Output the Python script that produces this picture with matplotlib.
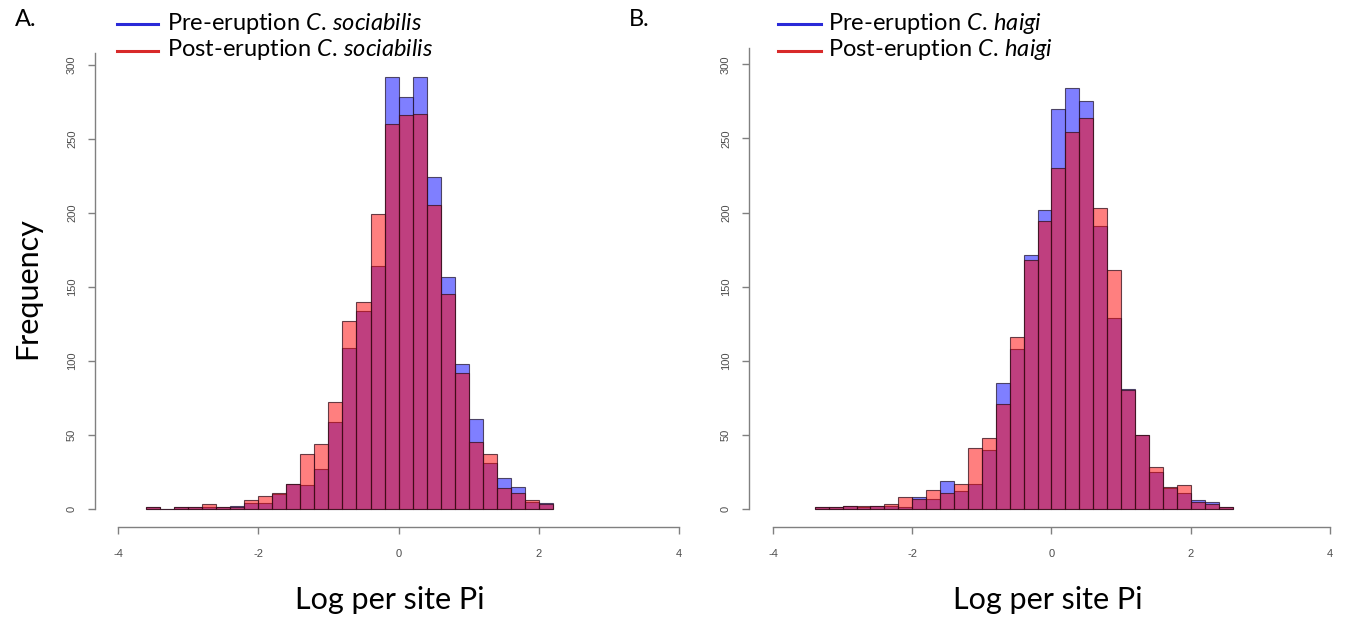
import numpy as np
import matplotlib
matplotlib.use('Agg')
import matplotlib.pyplot as plt
from matplotlib.lines import Line2D

plt.rcParams['font.family'] = ['Lato', 'DejaVu Sans']
plt.rcParams['mathtext.fontset'] = 'custom'
plt.rcParams['mathtext.rm'] = 'Lato'
plt.rcParams['mathtext.it'] = 'Lato:italic'

# bin width 0.2, first bin left edge per panel
bin_w = 0.2
start_a = -3.6
start_b = -3.4

# panel A : C. sociabilis (counts per bin)
pre_a = [1, 0, 1, 1, 1, 1, 2, 4, 4, 10, 17, 16, 27, 59, 109, 134, 164, 292,
         278, 292, 224, 157, 98, 61, 31, 21, 15, 5, 4]
post_a = [1, 0, 1, 1, 3, 1, 1, 6, 9, 11, 17, 37, 44, 72, 127, 140, 199, 260,
          266, 267, 205, 145, 92, 45, 37, 14, 11, 6, 3]

# panel B : C. haigi
pre_b = [1, 1, 2, 1, 2, 2, 1, 8, 7, 19, 12, 17, 40, 85, 108, 171, 202,
         270, 284, 275, 191, 129, 81, 50, 25, 14, 11, 6, 5, 1]
post_b = [1, 1, 2, 2, 2, 3, 8, 7, 13, 11, 17, 41, 48, 71, 116, 168, 194,
          230, 254, 264, 203, 161, 80, 50, 28, 15, 16, 5, 3, 1]

yticks = [0, 50, 100, 150, 200, 250, 300]
xticks = [-4, -2, 0, 2, 4]

W, H = 1350, 619
fig = plt.figure(figsize=(W / 100, H / 100), dpi=100)


def px_axes(l, t, r, b):
    # axes from pixel box (left, top, right, bottom)
    return fig.add_axes([l / W, 1 - b / H, (r - l) / W, (b - t) / H])


def draw_panel(ax, start, pre, post, xlim, ylim, ytop):
    lefts = start + bin_w * np.arange(len(pre))
    ax.bar(lefts, pre, width=bin_w, align='edge', color=(0, 0, 1, 0.5),
           edgecolor=(0.15, 0.1, 0.2, 0.75), linewidth=0.8)
    ax.bar(lefts, post, width=bin_w, align='edge', color=(1, 0, 0, 0.5),
           edgecolor=(0.2, 0.05, 0.1, 0.75), linewidth=0.8)
    ax.set_xlim(*xlim)
    ax.set_ylim(*ylim)
    for s in ['top', 'right']:
        ax.spines[s].set_visible(False)
    for s in ['left', 'bottom']:
        ax.spines[s].set_color('#808080')
        ax.spines[s].set_linewidth(1.0)
    ax.spines['left'].set_bounds(0, ytop)
    ax.spines['bottom'].set_bounds(-4, 4)
    ax.set_xticks(xticks)
    ax.set_yticks(yticks)
    ax.set_xticklabels([str(v) for v in xticks], fontfamily='Liberation Sans')
    ax.set_yticklabels([str(v) for v in yticks], rotation=90, va='center',
                       fontfamily='Liberation Sans')
    ax.tick_params(direction='out', length=5, width=1.0, color='#808080',
                   labelsize=8, labelcolor='#4d4d4d')
    ax.tick_params(axis='y', pad=8)
    ax.tick_params(axis='x', pad=11)
    ax.patch.set_alpha(0)


ax1 = px_axes(95, 50, 690, 527)
draw_panel(ax1, start_a, pre_a, post_a, (-4.33, 4.157), (-12.2, 310), 308)
ax2 = px_axes(749, 48, 1340, 527)
draw_panel(ax2, start_b, pre_b, post_b, (-4.344, 4.143), (-12.2, 311), 311)


def ftext(x, y, s, **kw):
    fig.text(x / W, 1 - y / H, s, **kw)


def fline(x0, x1, y, c):
    fig.add_artist(Line2D([x0 / W, x1 / W], [1 - y / H, 1 - y / H],
                          transform=fig.transFigure, color=c, lw=2.2))


ftext(15, 20, 'A.', fontsize=17, va='center')
ftext(629, 20, 'B.', fontsize=17, va='center')

fline(117, 158, 24, '#2a2ad8')
fline(117, 158, 51, '#d82a2a')
ftext(167, 23, r'Pre-eruption $\mathit{C.}\,\mathit{sociabilis}$', fontsize=17, va='center')
ftext(167, 50, r'Post-eruption $\mathit{C.}\,\mathit{sociabilis}$', fontsize=17, va='center')

fline(778, 821, 24, '#2a2ad8')
fline(778, 821, 51, '#d82a2a')
ftext(828, 23, r'Pre-eruption $\mathit{C.}\,\mathit{haigi}$', fontsize=17, va='center')
ftext(828, 50, r'Post-eruption $\mathit{C.}\,\mathit{haigi}$', fontsize=17, va='center')

ftext(27, 288, 'Frequency', fontsize=22, rotation=90, ha='center', va='center')
ftext(390, 600, 'Log per site Pi', fontsize=22, ha='center', va='center')
ftext(1048, 600, 'Log per site Pi', fontsize=22, ha='center', va='center')

fig.savefig('out.png', dpi=100)
